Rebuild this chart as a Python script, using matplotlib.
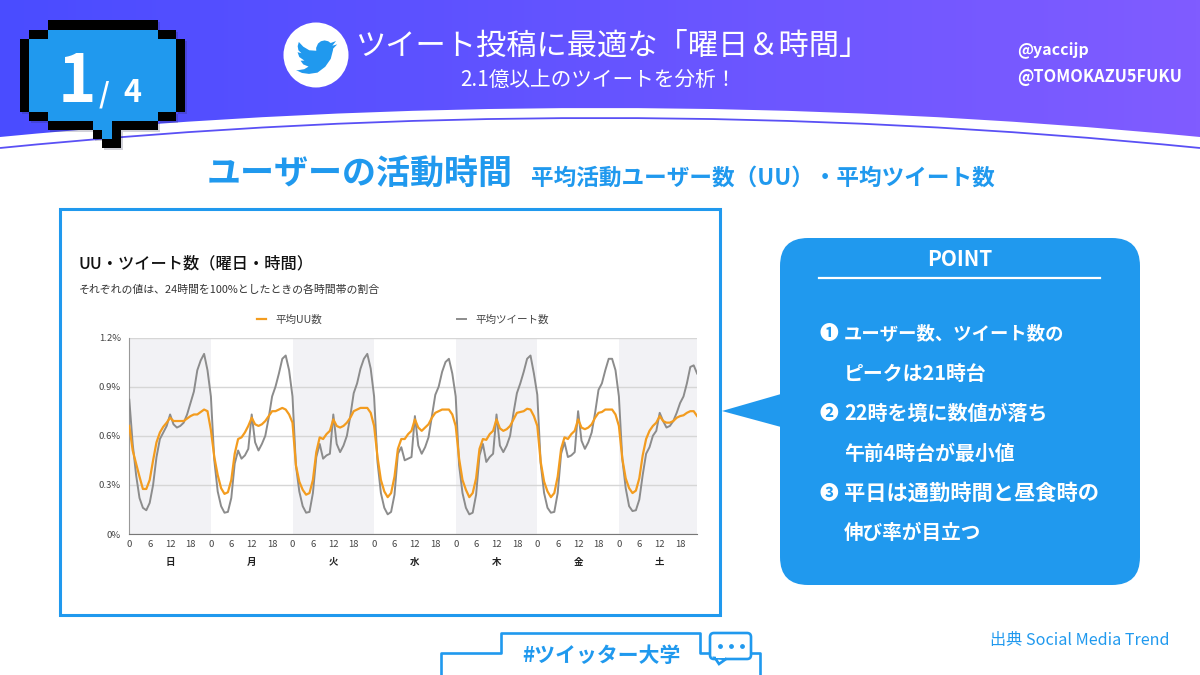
import matplotlib
matplotlib.use('Agg')
import matplotlib.pyplot as plt
from matplotlib.patches import Circle, FancyBboxPatch, PathPatch, Polygon, Rectangle
from matplotlib.path import Path
import numpy as np

plt.rcParams['font.family'] = ['Noto Sans CJK JP', 'DejaVu Sans']

# hourly share of the day, Sunday to Saturday
uu_sun = [.66, .51, .43, .35, .275, .275, .33, .45, .56, .62, .655, .68, .71, .69, .69, .69, .69, .705, .72, .73, .73, .745, .76, .75]
uu_mon = [.635, .47, .36, .28, .245, .255, .33, .49, .58, .59, .62, .66, .71, .67, .66, .67, .69, .72, .75, .75, .76, .77, .76, .73]
uu_tue = [.68, .42, .32, .27, .24, .25, .33, .50, .59, .58, .61, .63, .70, .66, .65, .66, .68, .71, .75, .76, .77, .77, .77, .74]
uu_wed = [.66, .47, .33, .26, .225, .25, .35, .52, .58, .58, .61, .63, .70, .65, .63, .65, .67, .71, .74, .75, .76, .76, .76, .73]
uu_thu = [.66, .46, .33, .27, .225, .25, .34, .52, .58, .575, .61, .63, .70, .645, .63, .64, .66, .70, .74, .745, .75, .765, .76, .72]
uu_fri = [.66, .44, .32, .26, .225, .25, .35, .52, .59, .58, .61, .63, .70, .65, .64, .65, .67, .71, .74, .745, .76, .76, .76, .73]
uu_sat = [.66, .46, .34, .28, .25, .265, .34, .48, .58, .63, .66, .68, .72, .69, .68, .68, .69, .71, .72, .725, .74, .75, .75, .72]

tw_sun = [.82, .55, .36, .22, .16, .145, .19, .30, .47, .58, .62, .66, .73, .67, .65, .66, .68, .73, .80, .87, 1.00, 1.06, 1.10, 1.00]
tw_mon = [.84, .45, .26, .17, .13, .135, .22, .43, .51, .46, .48, .52, .73, .56, .51, .55, .60, .71, .84, .90, .98, 1.07, 1.09, 1.00]
tw_tue = [.84, .42, .26, .17, .13, .135, .25, .47, .55, .46, .48, .49, .73, .55, .50, .54, .60, .72, .86, .92, 1.01, 1.07, 1.10, 1.01]
tw_wed = [.84, .44, .25, .16, .12, .135, .24, .49, .53, .45, .46, .47, .72, .54, .49, .53, .59, .72, .85, .90, .99, 1.05, 1.07, .98]
tw_thu = [.84, .42, .25, .16, .12, .13, .24, .48, .55, .44, .47, .49, .73, .54, .50, .54, .60, .74, .86, .92, .99, 1.07, 1.09, .98]
tw_fri = [.85, .43, .25, .16, .13, .135, .25, .49, .56, .47, .48, .50, .75, .57, .52, .56, .62, .74, .88, .92, 1.00, 1.07, 1.07, 1.00]
tw_sat = [.84, .46, .28, .17, .14, .145, .21, .36, .49, .53, .60, .63, .74, .69, .65, .66, .69, .74, .80, .84, .92, 1.02, 1.03, .98]

days = ['日', '月', '火', '水', '木', '金', '土']
hour_ticks = [0, 6, 12, 18]
y_ticks = [0, .3, .6, .9, 1.2]
y_labels = ['0%', '0.3%', '0.6%', '0.9%', '1.2%']

point_lines = ['ユーザー数、ツイート数の', 'ピークは21時台', '22時を境に数値が落ち',
               '午前4時台が最小値', '平日は通勤時間と昼食時の', '伸び率が目立つ']
point_sizes = [13.2, 14.3, 14.4, 14.3, 15.3, 14.1]
point_marks = ['❶', None, '❷', None, '❸', None]

BLUE = '#2099ee'
ORANGE = '#f39c1f'
GRAY = '#8c8c8c'

fig = plt.figure(figsize=(12, 6.75), dpi=100)

# whole page in pixel units, y pointing down
page = fig.add_axes([0, 0, 1, 1])
page.set_xlim(0, 1200)
page.set_ylim(675, 0)
page.axis('off')

# header gradient
grad = np.linspace(0, 1, 300).reshape(1, -1)
left = np.array([0x4a, 0x4c, 0xff]) / 255
right = np.array([0x80, 0x5c, 0xff]) / 255
rgb = left + (right - left) * grad[..., None]
page.imshow(rgb, extent=(0, 1200, 160, 0), aspect='auto', zorder=0)
page.set_xlim(0, 1200)
page.set_ylim(675, 0)

# white wave under the header plus the thin line below it
wave = Path([(0, 137), (600, 79), (1200, 137), (1200, 675), (0, 675), (0, 137)],
            [Path.MOVETO, Path.CURVE3, Path.CURVE3, Path.LINETO, Path.LINETO, Path.CLOSEPOLY])
page.add_patch(PathPatch(wave, fc='white', ec='none', zorder=1))
arc = Path([(0, 148), (600, 88), (1200, 148)], [Path.MOVETO, Path.CURVE3, Path.CURVE3])
page.add_patch(PathPatch(arc, fc='none', ec='#5a50f5', lw=1.3, zorder=2))

# pixel speech bubble
black_blocks = [(47.5, 20, 110, 9.5), (29, 29.5, 18.5, 9), (157.5, 29.5, 18.5, 9),
                (20, 38.5, 9, 73), (176, 38.5, 9, 73), (29, 111.5, 18.5, 9.5), (157.5, 111.5, 18.5, 9.5),
                (47.5, 121, 45.5, 9), (111.5, 121, 46, 9), (93, 130, 9, 9), (111.5, 130, 9, 9), (102, 139, 18.5, 9)]
blue_blocks = [(29, 38.5, 147, 73), (47.5, 29.5, 110, 91.5), (93, 121, 18.5, 9), (102, 130, 9.5, 9)]
for x, y, w, h in black_blocks:
    page.add_patch(Rectangle((x + 2, y + 2), w, h, fc='#222244', ec='none', alpha=.2, zorder=3))
for x, y, w, h in black_blocks:
    page.add_patch(Rectangle((x, y), w, h, fc='black', ec='none', zorder=4))
for x, y, w, h in blue_blocks:
    page.add_patch(Rectangle((x, y), w, h, fc=BLUE, ec='none', zorder=5))
page.text(77, 102, '1', color='white', fontsize=47, fontweight='bold', ha='center', va='baseline', zorder=6)
page.text(104, 102, '/', color='white', fontsize=20, fontweight='bold', ha='center', va='baseline', zorder=6)
page.text(132, 102, '4', color='white', fontsize=22, fontweight='bold', ha='center', va='baseline', zorder=6)

# bird logo
page.add_patch(Circle((316, 55), 32.5, fc='white', ec='none', zorder=3))
bird = np.array([(23.95, 4.57), (21.13, 5.35), (23.29, 2.62), (20.16, 3.80), (18.7, 2.75), (16.6, 2.28), (14.5, 2.75),
                 (12.8, 4.1), (11.7, 6.6), (11.78, 8.29), (7.7, 8.0), (4.2, 5.9), (1.64, 3.16), (.97, 5.64), (1.4, 8.0),
                 (3.16, 9.73), (.93, 9.12), (.93, 9.18), (1.9, 11.9), (4.88, 14.0), (2.66, 14.09), (4.2, 16.2), (7.27, 17.5),
                 (4.8, 19.0), (1.17, 19.6), (0, 19.54), (3.5, 21.2), (7.56, 21.75), (12.5, 21.0), (17.0, 17.6), (20.2, 13.0),
                 (21.55, 7.76), (21.54, 7.13)])
page.add_patch(Polygon(bird * 1.72 + (296, 36.5), closed=True, fc=BLUE, ec='none', zorder=4))

# header text
page.text(612, 46, 'ツイート投稿に最適な「曜日＆時間」', color='white', fontsize=21.8, ha='center', va='center', zorder=3)
page.text(598, 80, '2.1億以上のツイートを分析！', color='white', fontsize=14.9, ha='center', va='center', zorder=3)
page.text(1017, 50, '@yaccijp', color='white', fontsize=11.5, fontweight='bold', va='center', zorder=3)
page.text(1017, 77, '@TOMOKAZU5FUKU', color='white', fontsize=11.8, fontweight='bold', va='center', zorder=3)

# section heading
page.text(207, 174, 'ユーザーの活動時間', color=BLUE, fontsize=24.5, fontweight='bold', va='center', zorder=3)
page.text(531, 178, '平均活動ユーザー数（UU）・平均ツイート数', color=BLUE, fontsize=16.3, fontweight='bold', va='center', zorder=3)

# frame around the chart
page.add_patch(Rectangle((60, 209), 660, 406, fc='white', ec=BLUE, lw=2.2, zorder=2))
page.text(79, 264, 'UU・ツイート数（曜日・時間）', color='#111111', fontsize=11.7, fontweight='medium', va='center', zorder=3)
page.text(79, 290, 'それぞれの値は、24時間を100%としたときの各時間帯の割合', color='#333333', fontsize=7.85, va='center', zorder=3)

# point box with its pointer
page.add_patch(FancyBboxPatch((805, 263), 310, 297, boxstyle='round,pad=25,rounding_size=28', fc=BLUE, ec='none', zorder=2))
page.add_patch(Polygon([(722, 411), (781, 394), (781, 427)], closed=True, fc=BLUE, ec='none', zorder=2))
page.text(960, 260, 'POINT', color='white', fontsize=15, fontweight='bold', ha='center', va='center', zorder=3)
page.plot([819, 1100], [278, 278], color='white', lw=1.6, zorder=3)
for i, line in enumerate(point_lines):
    y = 333.5 + 40 * i
    if point_marks[i]:
        page.text(829, y, point_marks[i], color='white', fontsize=13.5, fontweight='bold', ha='center', va='center', zorder=3)
    page.text(844, y, line, color='white', fontsize=point_sizes[i], fontweight='bold', va='center', zorder=3)

# footer
page.text(1170, 641, '出典 Social Media Trend', color=BLUE, fontsize=11.6, ha='right', va='center', zorder=3)
page.plot([441, 441, 501, 501, 700, 700, 711], [675, 653, 653, 633, 633, 653, 653], color=BLUE, lw=1.9, zorder=2)
page.plot([751, 760, 760], [653, 653, 675], color=BLUE, lw=1.9, zorder=2)
page.text(601, 656, '#ツイッター大学', color=BLUE, fontsize=15, fontweight='bold', ha='center', va='center', zorder=3)
page.add_patch(FancyBboxPatch((713, 636), 35, 20, boxstyle='round,pad=3,rounding_size=4', fc='white', ec=BLUE, lw=1.9, zorder=3))
page.add_patch(Polygon([(715, 658), (719, 664), (726, 659)], closed=True, fc='white', ec=BLUE, lw=1.9, zorder=3))
page.add_patch(Rectangle((716, 654), 9, 4, fc='white', ec='none', zorder=4))
page.scatter([720, 731, 742], [646, 646, 646], s=6, color=BLUE, zorder=5)

# chart
ax = fig.add_axes([129.3 / 1200, 1 - 534 / 675, 567.8 / 1200, 196.5 / 675])
ax.patch.set_alpha(0)

uu = uu_sun + uu_mon + uu_tue + uu_wed + uu_thu + uu_fri + uu_sat
tw = tw_sun + tw_mon + tw_tue + tw_wed + tw_thu + tw_fri + tw_sat
hours = np.arange(len(uu))

for d in range(0, 7, 2):
    ax.axvspan(24 * d, min(24 * d + 24, 167), color='#f2f2f5', lw=0, zorder=0)
ax.grid(axis='y', color='#d6d6d6', lw=1, zorder=1)
line_uu, = ax.plot(hours, uu, color=ORANGE, lw=1.6, label='平均UU数', zorder=4)
line_tw, = ax.plot(hours, tw, color=GRAY, lw=1.4, label='平均ツイート数', zorder=3)

ax.set_xlim(0, 167)
ax.set_ylim(0, 1.2)
ax.set_yticks(y_ticks)
ax.set_yticklabels(y_labels)
xticks = [24 * d + h for d in range(7) for h in hour_ticks]
ax.set_xticks(xticks)
ax.set_xticklabels([str(h) for d in range(7) for h in hour_ticks])
ax.tick_params(length=0, labelsize=6.8, labelcolor='#444444', pad=4)
ax.tick_params(axis='y', pad=6)
for s in ['top', 'right']:
    ax.spines[s].set_visible(False)
ax.spines['left'].set_color('#999999')
ax.spines['bottom'].set_color('#777777')

for d, name in enumerate(days):
    ax.text(24 * d + 12, -.14, name, color='#222222', fontsize=6.8, fontweight='bold', ha='center', va='center',
            transform=ax.get_xaxis_transform())

ax.legend(handles=[line_uu, line_tw], ncol=2, loc='center', bbox_to_anchor=(.482, 1.089), frameon=False,
          fontsize=7.6, labelcolor='#444444', handlelength=.85, handletextpad=.9, columnspacing=12.7)

fig.savefig('out.png', dpi=100)
